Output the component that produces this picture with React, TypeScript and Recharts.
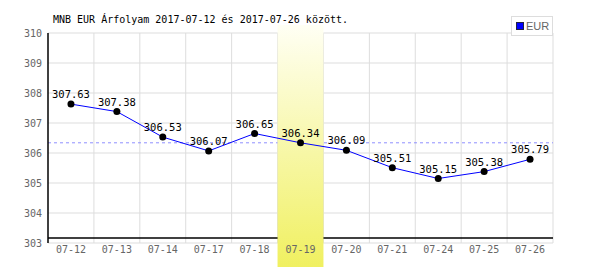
import {
  CartesianGrid,
  LabelList,
  Line,
  LineChart,
  ReferenceArea,
  ReferenceLine,
  XAxis,
  YAxis,
} from "recharts";

const dates = [
  "07-12",
  "07-13",
  "07-14",
  "07-17",
  "07-18",
  "07-19",
  "07-20",
  "07-21",
  "07-24",
  "07-25",
  "07-26",
];
const eurRates = [
  307.63, 307.38, 306.53, 306.07, 306.65, 306.34, 306.09, 305.51, 305.15,
  305.38, 305.79,
];
const yTicks = [303, 304, 305, 306, 307, 308, 309, 310];
const highlightDate = "07-19";
const highlightRate = 306.34;
const title = "MNB EUR Árfolyam 2017-07-12 és 2017-07-26 között.";

const data = dates.map((date, i) => ({ date, eur: eurRates[i] }));

const mono = '"DejaVu Sans Mono", monospace';

const App = () => {
  return (
    <div
      style={{
        position: "absolute",
        left: 0,
        top: 0,
        width: 600,
        height: 270,
        background: "#fff",
      }}
    >
      <div
        style={{
          position: "absolute",
          left: 53,
          top: 14,
          fontFamily: mono,
          fontSize: 10,
          lineHeight: "12px",
          color: "#000",
          whiteSpace: "nowrap",
        }}
      >
        {title}
      </div>

      {/* legend box, top right */}
      <div
        style={{
          position: "absolute",
          left: 511,
          top: 16,
          width: 40,
          height: 18,
          border: "1px solid #ddd",
          background: "#fff",
          display: "flex",
          alignItems: "center",
          zIndex: 2,
        }}
      >
        <div
          style={{
            width: 6,
            height: 6,
            marginLeft: 4,
            background: "#0000ff",
            border: "1px solid #224",
          }}
        />
        <span
          style={{
            marginLeft: 2,
            fontFamily: '"Liberation Sans Narrow", "Liberation Sans", sans-serif',
            fontSize: 11,
            color: "#666",
          }}
        >
          EUR
        </span>
      </div>

      <LineChart
        width={600}
        height={270}
        data={data}
        margin={{ top: 33, right: 47, left: 0, bottom: 7 }}
      >
        <defs>
          <linearGradient id="dayBand" x1="0" y1="0" x2="0" y2="1">
            <stop offset="0%" stopColor="#fffff4" />
            <stop offset="100%" stopColor="#f0f060" />
          </linearGradient>
        </defs>
        <CartesianGrid
          stroke="#dddddd"
          verticalCoordinatesGenerator={({ offset }: any) =>
            dates.map(
              (_, i) => offset.left + ((i + 1) * offset.width) / dates.length
            )
          }
        />
        <XAxis
          dataKey="date"
          scale="band"
          height={20}
          tickLine={false}
          axisLine={false}
          tickSize={0}
          tickMargin={3}
          interval={0}
          tick={{ fill: "#666", fontSize: 10, fontFamily: mono }}
        />
        <YAxis
          width={48}
          domain={[303, 310]}
          ticks={yTicks}
          tickLine={false}
          tickSize={0}
          tickMargin={6}
          axisLine={{ stroke: "#000", strokeWidth: 1.5 }}
          tick={{ fill: "#666", fontSize: 10, fontFamily: mono }}
        />
        <ReferenceLine
          y={highlightRate}
          stroke="#8f8fff"
          strokeDasharray="3 3"
          zIndex={20}
        />
        <ReferenceLine
          y={303.17}
          stroke="#000"
          strokeWidth={1.5}
          ifOverflow="visible"
          zIndex={30}
        />
        <ReferenceArea
          x1={highlightDate}
          x2={highlightDate}
          y1={302.2}
          y2={310.27}
          ifOverflow="visible"
          fill="url(#dayBand)"
          fillOpacity={1}
          stroke="none"
          zIndex={60}
        />
        <Line
          type="linear"
          dataKey="eur"
          stroke="#0000ff"
          strokeWidth={1}
          dot={{ r: 3.5, fill: "#000", stroke: "#000", strokeWidth: 0 }}
          activeDot={false}
          isAnimationActive={false}
        >
          <LabelList
            dataKey="eur"
            position="top"
            offset={6}
            fill="#000"
            fontSize={10.5}
            fontFamily={mono}
            formatter={(v: any) => Number(v).toFixed(2)}
          />
        </Line>
      </LineChart>
    </div>
  );
};

export default App;
